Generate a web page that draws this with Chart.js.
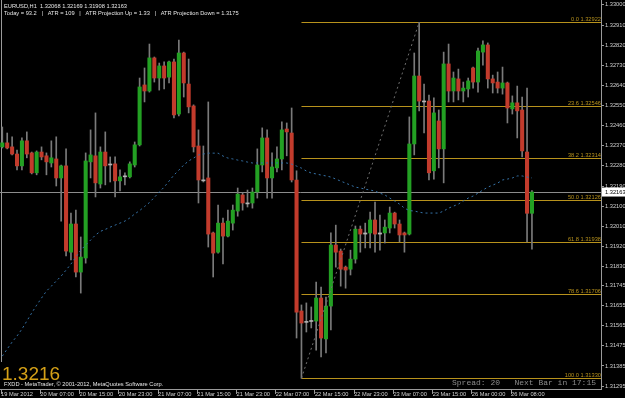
<!DOCTYPE html>
<html>
<head>
<meta charset="utf-8">
<title>EURUSD,H1</title>
<script src="https://cdn.jsdelivr.net/npm/chart.js@4.4.1/dist/chart.umd.min.js"></script>
<style>
  html, body { margin: 0; padding: 0; background: #000; }
  canvas { display: block; }
</style>
</head>
<body>
<canvas id="canvas" width="625" height="398"></canvas>
<script>
// EURUSD H1 bars, 19 Mar 23:00 -> 26 Mar 12:00
const open = [
  1.32365, 1.32383, 1.32365, 1.32333, 1.32280, 1.32392, 1.32338, 1.32249, 1.32342, 1.32325,
  1.32293, 1.32311, 1.32226, 1.32280, 1.31894, 1.32020, 1.31805, 1.31868, 1.32298, 1.32325,
  1.32199, 1.32342, 1.32284, 1.32289, 1.32213, 1.32231, 1.32231, 1.32284, 1.32374, 1.32642,
  1.32615, 1.32763, 1.32673, 1.32727, 1.32677, 1.32745, 1.32512, 1.32785, 1.32646, 1.32548,
  1.32369, 1.32217, 1.32226, 1.31980, 1.31894, 1.32024, 1.31966, 1.32024, 1.32078, 1.32150,
  1.32114, 1.32114, 1.32163, 1.32284, 1.32405, 1.32226, 1.32271, 1.32311, 1.32445, 1.32427,
  1.32217, 1.31631, 1.31580, 1.31584, 1.31586, 1.31689, 1.31506, 1.31653, 1.31926, 1.31899,
  1.31827, 1.31818, 1.31863, 1.31997, 1.31975, 1.31980, 1.32038, 1.31975, 1.31980, 1.32002,
  1.32069, 1.32020, 1.31980, 1.31975, 1.32378, 1.32682, 1.32570, 1.32570, 1.32258, 1.32481,
  1.32356, 1.32736, 1.32615, 1.32669, 1.32615, 1.32624, 1.32718, 1.32655, 1.32789, 1.32821,
  1.32669, 1.32655, 1.32628, 1.32651, 1.32535, 1.32562, 1.32530, 1.32342, 1.32068
];
const high = [
  1.32454, 1.32427, 1.32410, 1.32351, 1.32405, 1.32432, 1.32342, 1.32347, 1.32365, 1.32338,
  1.32392, 1.32410, 1.32284, 1.32356, 1.32069, 1.32082, 1.31962, 1.32338, 1.32441, 1.32517,
  1.32365, 1.32432, 1.32320, 1.32320, 1.32262, 1.32249, 1.32298, 1.32387, 1.32673, 1.32718,
  1.32825, 1.32767, 1.32740, 1.32745, 1.32749, 1.32758, 1.32843, 1.32789, 1.32758, 1.32553,
  1.32441, 1.32369, 1.32566, 1.31984, 1.32105, 1.32047, 1.32082, 1.32105, 1.32181, 1.32159,
  1.32172, 1.32181, 1.32356, 1.32450, 1.32441, 1.32338, 1.32365, 1.32477, 1.32472, 1.32539,
  1.32258, 1.31658, 1.31667, 1.31649, 1.31760, 1.31738, 1.31693, 1.31980, 1.32015, 1.31908,
  1.31832, 1.31903, 1.32011, 1.32011, 1.32024, 1.32073, 1.32118, 1.32060, 1.32038, 1.32096,
  1.32073, 1.32038, 1.31984, 1.32499, 1.32785, 1.32922, 1.32646, 1.32597, 1.32584, 1.32530,
  1.32789, 1.32825, 1.32700, 1.32713, 1.32655, 1.32673, 1.32722, 1.32807, 1.32839, 1.32830,
  1.32686, 1.32700, 1.32722, 1.32655, 1.32593, 1.32637, 1.32588, 1.32628, 1.32169
];
const low = [
  1.32360, 1.32356, 1.32329, 1.32262, 1.32262, 1.32316, 1.32244, 1.32240, 1.32307, 1.32240,
  1.32275, 1.32190, 1.32033, 1.31877, 1.31859, 1.31783, 1.31711, 1.31845, 1.32226, 1.32141,
  1.32181, 1.32195, 1.32208, 1.32141, 1.32168, 1.32195, 1.32226, 1.32275, 1.32369, 1.32566,
  1.32610, 1.32655, 1.32619, 1.32624, 1.32651, 1.32495, 1.32504, 1.32588, 1.32517, 1.32342,
  1.32114, 1.32208, 1.31917, 1.31783, 1.31890, 1.31841, 1.31962, 1.31993, 1.32055, 1.32082,
  1.32096, 1.32091, 1.32136, 1.32253, 1.32136, 1.32136, 1.32253, 1.32262, 1.32325, 1.32208,
  1.31510, 1.31330, 1.31537, 1.31555, 1.31456, 1.31425, 1.31443, 1.31546, 1.31827, 1.31742,
  1.31733, 1.31792, 1.31845, 1.31894, 1.31913, 1.31913, 1.31894, 1.31903, 1.31935, 1.31980,
  1.32002, 1.31940, 1.31894, 1.31971, 1.32329, 1.32526, 1.32427, 1.32217, 1.32221, 1.32271,
  1.32204, 1.32566, 1.32566, 1.32575, 1.32566, 1.32588, 1.32628, 1.32610, 1.32731, 1.32628,
  1.32606, 1.32606, 1.32601, 1.32472, 1.32512, 1.32405, 1.32320, 1.31940, 1.31908
];
const close = [
  1.32383, 1.32360, 1.32333, 1.32280, 1.32392, 1.32333, 1.32249, 1.32342, 1.32320, 1.32298,
  1.32316, 1.32226, 1.32280, 1.31899, 1.32020, 1.31805, 1.31872, 1.32302, 1.32329, 1.32204,
  1.32342, 1.32280, 1.32286, 1.32213, 1.32231, 1.32231, 1.32289, 1.32374, 1.32633, 1.32615,
  1.32763, 1.32673, 1.32727, 1.32673, 1.32745, 1.32508, 1.32785, 1.32651, 1.32544, 1.32365,
  1.32217, 1.32213, 1.31975, 1.31890, 1.32024, 1.31966, 1.32033, 1.32082, 1.32154, 1.32114,
  1.32110, 1.32163, 1.32284, 1.32405, 1.32226, 1.32275, 1.32311, 1.32441, 1.32432, 1.32217,
  1.31626, 1.31577, 1.31584, 1.31586, 1.31689, 1.31510, 1.31653, 1.31926, 1.31894, 1.31818,
  1.31814, 1.31863, 1.31997, 1.31975, 1.31980, 1.32038, 1.31975, 1.31980, 1.32006, 1.32069,
  1.32020, 1.31971, 1.31971, 1.32378, 1.32682, 1.32570, 1.32566, 1.32249, 1.32517, 1.32356,
  1.32736, 1.32615, 1.32673, 1.32615, 1.32628, 1.32660, 1.32655, 1.32794, 1.32821, 1.32669,
  1.32651, 1.32628, 1.32651, 1.32539, 1.32562, 1.32526, 1.32347, 1.32068, 1.32163
];
// moving average (dotted blue)
const ma = [
  1.31429, 1.31461, 1.31492, 1.31519, 1.31550, 1.31586, 1.31622, 1.31657, 1.31689, 1.31720,
  1.31742, 1.31765, 1.31787, 1.31814, 1.31841, 1.31872, 1.31903, 1.31926, 1.31948, 1.31971,
  1.31987, 1.31996, 1.32006, 1.32015, 1.32024, 1.32033, 1.32047, 1.32065, 1.32080, 1.32098,
  1.32116, 1.32139, 1.32163, 1.32185, 1.32212, 1.32239, 1.32261, 1.32284, 1.32302, 1.32315,
  1.32329, 1.32333, 1.32337, 1.32337, 1.32337, 1.32324, 1.32315, 1.32311, 1.32306, 1.32302,
  1.32297, 1.32293, 1.32293, 1.32293, 1.32293, 1.32293, 1.32293, 1.32293, 1.32293, 1.32288,
  1.32279, 1.32270, 1.32257, 1.32248, 1.32244, 1.32239, 1.32235, 1.32230, 1.32221, 1.32212,
  1.32203, 1.32194, 1.32185, 1.32181, 1.32176, 1.32172, 1.32167, 1.32158, 1.32150, 1.32136,
  1.32123, 1.32109, 1.32091, 1.32080, 1.32078, 1.32073, 1.32069, 1.32069, 1.32069, 1.32069,
  1.32078, 1.32091, 1.32100, 1.32109, 1.32123, 1.32136, 1.32145, 1.32158, 1.32172, 1.32185,
  1.32194, 1.32203, 1.32217, 1.32221, 1.32226, 1.32235, 1.32235, 1.32230, 1.32226
];

// fibonacci retracement: from bar 61 (low) to bar 85 (high)
const fibLevels = ['0.0', '23.6', '38.2', '50.0', '61.8', '78.6', '100.0'];
const fibPrices = [1.32922, 1.32546, 1.32314, 1.32126, 1.31938, 1.31706, 1.31330];
const fibStartBar = 61;
const fibEndBar = 85;

// axis labels
const tickBars = [0, 8, 16, 24, 32, 40, 48, 56, 64, 72, 80, 88, 96, 104];
const tickLabels = ['19 Mar 2012', '20 Mar 07:00', '20 Mar 15:00', '20 Mar 23:00', '21 Mar 07:00',
  '21 Mar 15:00', '21 Mar 23:00', '22 Mar 07:00', '22 Mar 15:00', '22 Mar 23:00', '23 Mar 07:00',
  '23 Mar 15:00', '26 Mar 00:00', '26 Mar 08:00'];
const priceTicks = [1.33000, 1.32910, 1.32820, 1.32730, 1.32640, 1.32550, 1.32460, 1.32370,
  1.32280, 1.32190, 1.32100, 1.32010, 1.31920, 1.31830, 1.31745, 1.31655, 1.31565, 1.31475,
  1.31385, 1.31295];

const headerLine1 = 'EURUSD,H1  1.32068 1.32169 1.31908 1.32163';
const headerLine2 = 'Today = 93.2   |   ATR = 109   |   ATR Projection Up = 1.33   |   ATR Projection Down = 1.3175';
const copyright = 'FXDD - MetaTrader, \u00a9 2001-2012, MetaQuotes Software Corp.';
const spreadText = 'Spread: 20   Next Bar in 17:15';

const bid = close[close.length - 1];

const FONT = '"Liberation Sans", Arial, sans-serif';
const fibColor = '#b8921c';

// candle parts
const bodyData = open.map((o, i) => ({ x: i, y: [o, close[i]] }));
const wickData = low.map((l, i) => ({ x: i, y: [l, high[i]] }));
const bodyColors = open.map((o, i) => {
    const d = close[i] - o;
    if (Math.abs(d) < 0.00006) return '#b4b4b4';
    return d > 0 ? '#23a023' : '#c23b2c';
});

// lines, labels and texts that MT4 paints on top of the chart
const mt4Overlay = {
    id: 'mt4Overlay',
    beforeDatasetsDraw(chart) {
        const { ctx, chartArea: a, scales: { x, y } } = chart;
        ctx.save();
        ctx.lineWidth = 1;

        // left border
        ctx.strokeStyle = '#9a9a9a';
        ctx.beginPath();
        ctx.moveTo(a.left + 1.5, a.top);
        ctx.lineTo(a.left + 1.5, 362);
        ctx.stroke();

        // bid line
        const by = Math.round(y.getPixelForValue(bid)) + 0.5;
        ctx.strokeStyle = '#8c8c8c';
        ctx.beginPath();
        ctx.moveTo(a.left, by);
        ctx.lineTo(a.right, by);
        ctx.stroke();

        // fibo levels
        const fx = x.getPixelForValue(fibStartBar);
        ctx.font = '5.7px ' + FONT;
        ctx.textBaseline = 'alphabetic';
        ctx.textAlign = 'right';
        fibPrices.forEach((p, k) => {
            const fy = Math.round(y.getPixelForValue(p)) + 0.5;
            ctx.strokeStyle = fibColor;
            ctx.beginPath();
            ctx.moveTo(fx, fy);
            ctx.lineTo(a.right, fy);
            ctx.stroke();
            ctx.fillStyle = fibColor;
            ctx.fillText(fibLevels[k], a.right - 22, fy - 2);
            ctx.fillText(p.toFixed(5), a.right, fy - 2);
        });
        ctx.restore();
    },
    afterDraw(chart) {
        const { ctx, chartArea: a, scales: { y } } = chart;
        ctx.save();

        // header
        ctx.fillStyle = '#e6e6e6';
        ctx.font = '5.7px ' + FONT;
        ctx.textAlign = 'left';
        ctx.textBaseline = 'alphabetic';
        ctx.fillText(headerLine1, 4, 7.5);
        ctx.fillText(headerLine2, 4, 14.7);

        // big bid
        ctx.fillStyle = '#d4a017';
        ctx.font = '19px ' + FONT;
        ctx.fillText(bid.toFixed(4), 2, 380);

        // copyright
        ctx.fillStyle = '#e6e6e6';
        ctx.font = '5.7px ' + FONT;
        ctx.fillText(copyright, 4, 385.5);

        // spread / timer
        ctx.fillStyle = '#8c8c8c';
        ctx.font = '8px "Liberation Mono", monospace';
        ctx.textAlign = 'right';
        ctx.fillText(spreadText, 596, 385);

        // bid box on the price axis
        const py = y.getPixelForValue(bid);
        ctx.fillStyle = '#ffffff';
        ctx.fillRect(a.right + 1, py - 4.5, 24, 9);
        ctx.fillStyle = '#000000';
        ctx.font = '5.7px ' + FONT;
        ctx.textAlign = 'left';
        ctx.textBaseline = 'middle';
        ctx.fillText(bid.toFixed(5), a.right + 4, py + 0.5);
        ctx.restore();
    }
};

const ctx = document.getElementById('canvas').getContext('2d');
new Chart(ctx, {
    type: 'bar',
    data: {
        datasets: [
            {
                type: 'line',
                label: 'MA',
                data: ma.map((v, i) => ({ x: i, y: v })),
                borderColor: '#3673a8',
                borderWidth: 1,
                borderDash: [2, 3],
                pointRadius: 0,
                fill: false,
                order: 0
            },
            {
                type: 'line',
                label: 'Fibo trend',
                data: [
                    { x: fibStartBar, y: fibPrices[fibPrices.length - 1] },
                    { x: fibEndBar, y: fibPrices[0] }
                ],
                borderColor: '#6e6e6e',
                borderWidth: 1,
                borderDash: [2, 3],
                pointRadius: 0,
                fill: false,
                order: 0
            },
            {
                label: 'Body',
                data: bodyData,
                backgroundColor: bodyColors,
                borderWidth: 0,
                barThickness: 3.4,
                minBarLength: 1,
                grouped: false,
                order: 1
            },
            {
                label: 'Wick',
                data: wickData,
                backgroundColor: '#7a7a7a',
                borderWidth: 0,
                barThickness: 1,
                grouped: false,
                order: 2
            }
        ]
    },
    options: {
        responsive: false,
        animation: false,
        layout: { padding: 0 },
        plugins: {
            legend: { display: false },
            tooltip: { enabled: false }
        },
        scales: {
            x: {
                type: 'linear',
                position: 'bottom',
                min: -0.47,
                max: 122.08,
                bounds: 'data',
                offset: false,
                grid: { offset: false, drawOnChartArea: false, drawTicks: true, tickLength: 5, color: '#9a9a9a' },
                border: { display: true, color: '#9a9a9a' },
                ticks: {
                    autoSkip: false,
                    maxRotation: 0,
                    minRotation: 0,
                    align: 'start',
                    padding: -3,
                    color: '#d0d0d0',
                    font: { family: FONT, size: 5.7 },
                    callback: (v, i) => tickLabels[i]
                },
                afterBuildTicks: (s) => { s.ticks = tickBars.map(b => ({ value: b - 0.25 })); },
                afterFit: (s) => { s.height = 9; s.paddingLeft = 0; s.paddingRight = 0; }
            },
            y: {
                type: 'linear',
                position: 'right',
                min: 1.31282,
                max: 1.33022,
                bounds: 'data',
                beginAtZero: false,
                grid: { drawOnChartArea: false, drawTicks: true, tickLength: 3, color: '#9a9a9a' },
                border: { display: true, color: '#9a9a9a' },
                ticks: {
                    autoSkip: false,
                    padding: 1,
                    color: '#d0d0d0',
                    font: { family: FONT, size: 5.7 },
                    callback: (v) => v.toFixed(5)
                },
                afterBuildTicks: (s) => { s.ticks = priceTicks.map(v => ({ value: v })); },
                afterFit: (s) => { s.width = 24; s.paddingTop = 0; s.paddingBottom = 0; }
            }
        }
    },
    plugins: [mt4Overlay]
});
</script>
</body>
</html>
